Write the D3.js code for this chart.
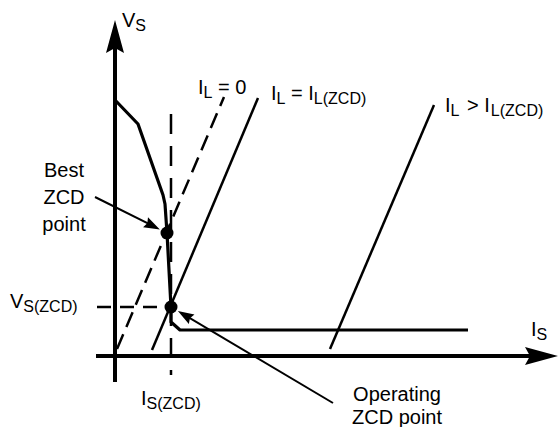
<!DOCTYPE html>
<html>
<head>
<meta charset="utf-8">
<script src="https://cdn.jsdelivr.net/npm/d3@7"></script>
<style>
  body { margin: 0; background: #fff; }
  text { font-family: "Liberation Sans", Arial, sans-serif; font-size: 20px; fill: #000; }
  .sub { font-size: 16px; }
</style>
</head>
<body>
<div id="chart"></div>
<script>
// source characteristic, V_S against I_S (arbitrary units)
var sourceI = [0, 2.3, 4.8, 5.0, 5.2, 5.6, 5.6, 6.5, 35.3];
var sourceV = [25.6, 23.2, 16.1, 15.2, 12.3, 4.9, 3.4, 2.6, 2.6];

// load lines: IL = 0, IL = IL(ZCD), IL > IL(ZCD)
var loadNames = ["IL0", "ILzcd", "ILhigh"];
var loadDashed = [true, false, false];
var loadI0 = [0.2, 3.7, 21.5];
var loadV0 = [0.7, 0.6, 0.7];
var loadI1 = [10.9, 14.3, 31.9];
var loadV1 = [25.9, 25.8, 25.1];

// points of interest
var isZcd = 5.6, vsZcd = 4.9;
var bestI = 5.2, bestV = 12.3;

var width = 558, height = 427;

var svg = d3.select("#chart").append("svg")
    .attr("width", width)
    .attr("height", height);

var x = d3.scaleLinear().domain([0, 10]).range([115, 215]);
var y = d3.scaleLinear().domain([0, 10]).range([356, 256]);

var line = d3.line()
    .x(function (d) { return x(d[0]); })
    .y(function (d) { return y(d[1]); });

// filled arrow head, tip at (px,py), pointing along angle (radians)
function arrowHead(px, py, ang, len, half, notch) {
  var pts = [[0, 0], [-len, -half], [-len + notch, 0], [-len, half]];
  var c = Math.cos(ang), s = Math.sin(ang);
  var p = pts.map(function (q) {
    return [px + q[0] * c - q[1] * s, py + q[0] * s + q[1] * c];
  });
  svg.append("path")
    .attr("d", "M" + p.join("L") + "Z")
    .attr("fill", "#000");
}

// axes
svg.append("line")
    .attr("x1", x(0)).attr("x2", x(0))
    .attr("y1", y(-2.6)).attr("y2", y(31))
    .attr("stroke", "#000").attr("stroke-width", 4);
arrowHead(x(0), y(33.6), -Math.PI / 2, 33, 9, 5);

svg.append("line")
    .attr("x1", x(-1.9)).attr("x2", x(41.5))
    .attr("y1", y(0)).attr("y2", y(0))
    .attr("stroke", "#000").attr("stroke-width", 4);
arrowHead(x(44.3), y(0), 0, 33, 9, 5);

// ZCD guide lines
svg.append("line")
    .attr("x1", x(isZcd)).attr("x2", x(isZcd))
    .attr("y1", y(24.2)).attr("y2", y(-1.9))
    .attr("stroke", "#000").attr("stroke-width", 2.5)
    .attr("stroke-dasharray", "20,12");
svg.append("line")
    .attr("x1", x(-1.8)).attr("x2", x(isZcd))
    .attr("y1", y(vsZcd)).attr("y2", y(vsZcd))
    .attr("stroke", "#000").attr("stroke-width", 2.5)
    .attr("stroke-dasharray", "14,9");

// load lines
loadNames.forEach(function (n, i) {
  svg.append("path")
    .attr("class", "load " + n)
    .attr("d", line([[loadI0[i], loadV0[i]], [loadI1[i], loadV1[i]]]))
    .attr("fill", "none")
    .attr("stroke", "#000")
    .attr("stroke-width", 2.5)
    .attr("stroke-dasharray", loadDashed[i] ? "16,8" : null);
});

// source curve
svg.append("path")
    .attr("d", line(d3.zip(sourceI, sourceV)))
    .attr("fill", "none")
    .attr("stroke", "#000")
    .attr("stroke-width", 3.2)
    .attr("stroke-linejoin", "round");

// dots
svg.selectAll("circle")
  .data([[bestI, bestV], [isZcd, vsZcd]])
  .enter().append("circle")
    .attr("cx", function (d) { return x(d[0]); })
    .attr("cy", function (d) { return y(d[1]); })
    .attr("r", 6.5)
    .attr("fill", "#000");

// leader arrows
function leader(fromI, fromV, toI, toV) {
  var x0 = x(fromI), y0 = y(fromV), x1 = x(toI), y1 = y(toV);
  var ang = Math.atan2(y1 - y0, x1 - x0);
  var tx = x1 - 8 * Math.cos(ang), ty = y1 - 8 * Math.sin(ang);
  svg.append("line")
    .attr("x1", x0).attr("y1", y0)
    .attr("x2", tx - 10 * Math.cos(ang)).attr("y2", ty - 10 * Math.sin(ang))
    .attr("stroke", "#000").attr("stroke-width", 2);
  arrowHead(tx, ty, ang, 16, 5.5, 2);
}
leader(-2.0, 15.9, bestI, bestV);
leader(21.8, -4.7, isZcd, vsZcd);

// labels
function label(px, py, parts, anchor) {
  var t = svg.append("text")
      .attr("x", px).attr("y", py)
      .attr("text-anchor", anchor || "start");
  parts.forEach(function (p) {
    var ts = t.append("tspan").text(p.t);
    if (p.sub) ts.attr("class", "sub").attr("dy", 4);
    if (p.back) ts.attr("dy", -4);
    if (p.dx) ts.attr("dx", p.dx);
  });
}

label(122, 27, [{t: "V"}, {t: "S", sub: true}]);
label(531, 336, [{t: "I"}, {t: "S", sub: true}]);
label(198, 94, [{t: "I"}, {t: "L", sub: true}, {t: " = 0", back: true}]);
label(271, 100, [{t: "I"}, {t: "L", sub: true}, {t: " = I", back: true}, {t: "L(ZCD)", sub: true}]);
label(445, 112, [{t: "I"}, {t: "L", sub: true}, {t: " > I", back: true, dx: 2}, {t: "L(ZCD)", sub: true, dx: 1}]);
label(10, 308, [{t: "V"}, {t: "S(ZCD)", sub: true}]);
label(141, 405, [{t: "I"}, {t: "S(ZCD)", sub: true}]);

["Best", "ZCD", "point"].forEach(function (s, i) {
  svg.append("text").attr("x", 64).attr("y", 177 + i * 27)
    .attr("text-anchor", "middle").text(s);
});
["Operating", "ZCD point"].forEach(function (s, i) {
  svg.append("text").attr("x", 397).attr("y", 401 + i * 23)
    .attr("text-anchor", "middle").text(s);
});
</script>
</body>
</html>
